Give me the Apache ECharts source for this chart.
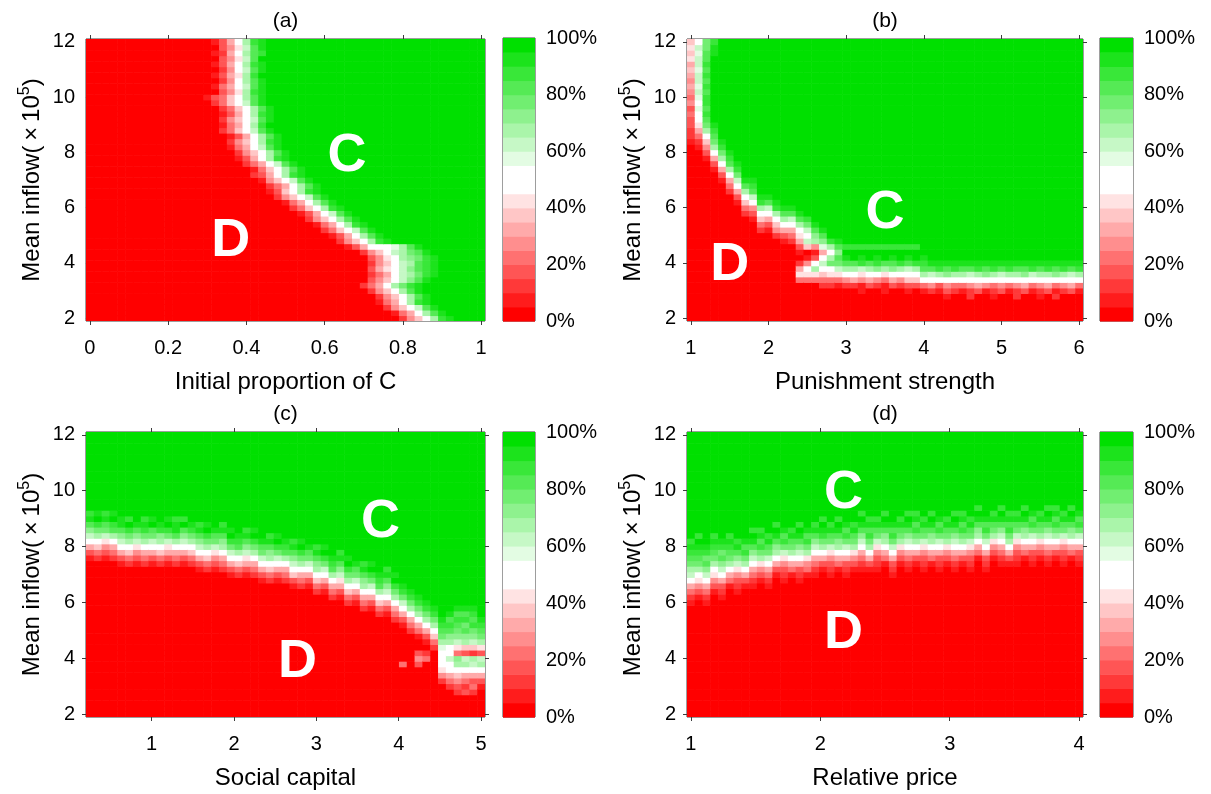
<!DOCTYPE html>
<html>
<head>
<meta charset="utf-8">
<script src="https://cdn.jsdelivr.net/npm/echarts@6/dist/echarts.min.js"></script>
<style>
html,body{margin:0;padding:0;background:#fff;}
#chart{width:1211px;height:794px;}
</style>
</head>
<body>
<div id="chart"></div>
<script>
// ---------------- DATA ----------------
// Share of cooperators, stored per cell as a colour-band key (band k = k*5 .. k*5+5 %)
const levelKey = '0123456789abcdefghij';

// Mean inflow (x10^5) of each grid row, bottom -> top
const yCells = [2,2.2,2.4,2.6,2.8,3,3.2,3.4,3.6,3.8,4,4.2,4.4,4.6,4.8,5,5.2,5.4,5.6,5.8,6,6.2,6.4,6.6,6.8,7,7.2,7.4,7.6,7.8,8,8.2,8.4,8.6,8.8,9,9.2,9.4,9.6,9.8,10,10.2,10.4,10.6,10.8,11,11.2,11.4,11.6,11.8,12];

// x of each grid column
const xCellsA = [0,0.02,0.04,0.06,0.08,0.1,0.12,0.14,0.16,0.18,0.2,0.22,0.24,0.26,0.28,0.3,0.32,0.34,0.36,0.38,0.4,0.42,0.44,0.46,0.48,0.5,0.52,0.54,0.56,0.58,0.6,0.62,0.64,0.66,0.68,0.7,0.72,0.74,0.76,0.78,0.8,0.82,0.84,0.86,0.88,0.9,0.92,0.94,0.96,0.98,1];
const xCellsB = [1,1.1,1.2,1.3,1.4,1.5,1.6,1.7,1.8,1.9,2,2.1,2.2,2.3,2.4,2.5,2.6,2.7,2.8,2.9,3,3.1,3.2,3.3,3.4,3.5,3.6,3.7,3.8,3.9,4,4.1,4.2,4.3,4.4,4.5,4.6,4.7,4.8,4.9,5,5.1,5.2,5.3,5.4,5.5,5.6,5.7,5.8,5.9,6];
const xCellsC = [0.25,0.345,0.44,0.535,0.63,0.725,0.82,0.915,1.01,1.105,1.2,1.295,1.39,1.485,1.58,1.675,1.77,1.865,1.96,2.055,2.15,2.245,2.34,2.435,2.53,2.625,2.72,2.815,2.91,3.005,3.1,3.195,3.29,3.385,3.48,3.575,3.67,3.765,3.86,3.955,4.05,4.145,4.24,4.335,4.43,4.525,4.62,4.715,4.81,4.905,5];
const xCellsD = [1,1.06,1.12,1.18,1.24,1.3,1.36,1.42,1.48,1.54,1.6,1.66,1.72,1.78,1.84,1.9,1.96,2.02,2.08,2.14,2.2,2.26,2.32,2.38,2.44,2.5,2.56,2.62,2.68,2.74,2.8,2.86,2.92,2.98,3.04,3.1,3.16,3.22,3.28,3.34,3.4,3.46,3.52,3.58,3.64,3.7,3.76,3.82,3.88,3.94,4];

// (a) one entry per row (bottom -> top): [first column of the D->C transition, bands across it]
// cells left of it are all-D (0%), cells right of it all-C (100%)
const rowsA = [
 [40,"2579dhi"],[39,"1469dgi"],[38,"2579cgi"],[37,"1469dhi"],[37,"2579dgi"],
 [36,"2579dgi"],[35,"2469dfhi"],[36,"3579cegi"],[36,"2469cdfhi"],[36,"3689ceghi"],
 [36,"2579cdghi"],[36,"358adefhi"],[35,"2579cdfgi"],[33,"13699abdgi"],[32,"2579dhi"],
 [31,"1369dgi"],[30,"2479cgi"],[29,"1469dhi"],[28,"2579dgi"],[27,"1369cgi"],
 [26,"2479dhi"],[25,"1469dgi"],[24,"2579cgi"],[23,"1379dhi"],[23,"2469dgi"],
 [22,"1579cgi"],[21,"2369dhi"],[21,"1479dgi"],[20,"2469cgi"],[19,"1369dhi"],
 [19,"2579dgi"],[18,"1469cgi"],[18,"2579dhi"],[18,"1369dgi"],[17,"2479cgi"],
 [17,"1469dhj"],[17,"2579cgi"],[17,"1369dhi"],[17,"2479dgi"],[16,"2479cgi"],
 [15,"13479dgi"],[16,"0358dhi"],[16,"1469cgi"],[16,"0259dgi"],[16,"1368dhj"],
 [16,"0259cgi"],[16,"1369dhi"],[16,"0358cgj"],[16,"1269dgh"],[16,"0358cgi"],
 [16,"1369dhi"]
];

// (b),(c),(d) one entry per column (left -> right): [first row of the transition, bands upward]
// cells below it are all-D (0%), cells above it all-C (100%)
const colsB = [
 [32,"1223343545656768787"],[31,"124689ababcbccbccbca"],[29,"1357adfghghhghghghggff"],[27,"136adfghijjjjjjjjjjjjiih"],[25,"1369dfhi"],
 [23,"2469dghi"],[21,"1369cfhi"],[19,"2479dgi"],[18,"1359cghi"],[16,"2479dhi"],
 [16,"1369cgi"],[15,"2579dhi"],[14,"1369dgi"],[14,"2469cgi"],[7,"486201368adgi"],
 [7,"4895107cacfh"],[7,"48d9315degi"],[6,"2479ca6begi"],[6,"248afd9dh"],[6,"148cfgegi"],
 [6,"259dgijh"],[5,"0269dgjjh"],[5,"1158chijh"],[5,"036adgjjh"],[5,"0259ehijh"],
 [5,"1148dgjjh"],[5,"036aegijh"],[5,"0259dhjjh"],[5,"1379cgijh"],[5,"037adhjjh"],
 [5,"149dghij"],[5,"25acgij"],[5,"139dhij"],[4,"135aegij"],[5,"249dhij"],
 [5,"14adgij"],[4,"2259cgij"],[5,"369dhij"],[5,"15aegij"],[4,"1249dhij"],
 [5,"359cgij"],[5,"14adhij"],[4,"2259dgij"],[5,"36aegij"],[5,"149chij"],
 [4,"125adgij"],[5,"369dhij"],[4,"2149egij"],[5,"25adhij"],[5,"369cgij"],
 [5,"149dhij"]
];
const colsC = [
 [28,"1369cegih"],[28,"2479dfhji"],[28,"1358cfgih"],[28,"2469dghji"],[27,"1369cegii"],
 [27,"2479dfhjh"],[27,"1358cegij"],[27,"2469dfhih"],[27,"1369cfgji"],[27,"2479dehij"],
 [27,"1368cfhji"],[27,"2469dgiih"],[27,"1369cegjh"],[27,"2479dfhij"],[26,"1369cegih"],
 [26,"2479dfhji"],[26,"1358cfgij"],[26,"2469degih"],[25,"1369cfhji"],[25,"2479dghij"],
 [25,"1368cegih"],[25,"2469dfhji"],[24,"1369cfgij"],[24,"2479degih"],[24,"1369cfhji"],
 [24,"2469dghij"],[23,"1379cegih"],[23,"2469dfhji"],[23,"1369cfgij"],[22,"2479degih"],
 [22,"1369cfhji"],[21,"2469dghij"],[21,"1368cegih"],[20,"2479dfhji"],[20,"1369cfgij"],
 [19,"2469degih"],[19,"1369cfhji"],[18,"2479dghij"],[18,"1369cegih"],[17,"2469dfhji"],
 [9,"40000001369cfhi"],[15,"2469dfhij"],[9,"353001469dfhi"],[10,"4201369dfhi"],[12,"2479dfhij"],
 [6,"2589a9bdfghi"],[5,"2469ac9adeghgi"],[4,"23579de48cefghgi"],[4,"32469dc37degfhgi"],[4,"2436acd27cefhghi"],
 [5,"1369dc38dfghi"]
];
const colsD = [
 [20,"12469cdfghihj"],[21,"1358adfghijh"],[20,"12469cegfhij"],[22,"1358adfghihj"],[21,"12369cegfhij"],
 [23,"1469dfghihj"],[22,"12358cegihj"],[23,"1369dfhgij"],[23,"12469cegijh"],[24,"1358dfhgihj"],
 [23,"12469cfgihj"],[25,"1369degijh"],[24,"12358cfhgij"],[25,"1469dfgihj"],[24,"12369cegijh"],
 [25,"1458dfhgij"],[25,"12469cegihj"],[26,"1369dfhijh"],[25,"12358cfgihj"],[26,"1469degijh"],
 [25,"12369cfhgij"],[26,"1358dfgihj"],[26,"12469cegijh"],[26,"1369dfhgihj"],[26,"12358cfgihj"],
 [27,"1469degijh"],[25,"12369cfhgij"],[27,"1358dfgihj"],[26,"12469cegijh"],[27,"1369dfhgihj"],
 [26,"12358cfgihj"],[27,"1469degijh"],[26,"12369cfhgij"],[27,"1358dfgihj"],[26,"12469cegijh"],
 [27,"1369dfhgihj"],[26,"12358cfgihj"],[28,"1469degijh"],[26,"12369cfhgij"],[28,"1358dfgihj"],
 [27,"12469cegijh"],[27,"1369dfhgihj"],[27,"12358cfgihj"],[28,"1469degijh"],[27,"12369cfhgij"],
 [28,"1358dfgihj"],[27,"12469cegijh"],[28,"1369dfhgihj"],[27,"12358cfgihj"],[28,"1469degijh"],
 [27,"12369cfhgij"]
];

// Tick labels
const xTicksA = [0,0.2,0.4,0.6,0.8,1];
const xTicksB = [1,2,3,4,5,6];
const xTicksC = [1,2,3,4,5];
const xTicksD = [1,2,3,4];
const yTicks = [2,4,6,8,10,12];
const cbBands = [0,5,10,15,20,25,30,35,40,45,50,55,60,65,70,75,80,85,90,95];

const panelTitles = ['(a)','(b)','(c)','(d)'];
const xNames = ['Initial proportion of C','Punishment strength','Social capital','Relative price'];
const regionLabelsA = [['C',0.657,7.85],['D',0.36,4.8]];
const regionLabelsB = [['C',3.5,5.8],['D',1.5,3.92]];
const regionLabelsC = [['C',3.78,8.88],['D',2.77,3.86]];
const regionLabelsD = [['C',2.18,9.92],['D',2.18,4.9]];

// ---------------- BUILD ----------------
function levelOf(ch){ return levelKey.indexOf(ch) * 5 + 2.5; }
function bandColor(b){
  if (b <= 8){ const t = b / 9; const c = Math.round(255 * t); return 'rgb(255,' + c + ',' + c + ')'; }
  if (b <= 10) return 'rgb(255,255,255)';
  const t = (19 - b) / 9;
  return 'rgb(' + Math.round(255 * t) + ',' + Math.round(224 + 31 * t) + ',' + Math.round(255 * t) + ')';
}
function cellChar(start, s, k){ const d = k - start; return d < 0 ? '0' : (d < s.length ? s[d] : 'j'); }
function buildByRows(rows, xs, ys){
  if (rows.length !== ys.length) throw new Error('row count');
  const out = [];
  rows.forEach(function(r, j){ xs.forEach(function(x, i){ out.push([x, ys[j], levelOf(cellChar(r[0], r[1], i))]); }); });
  return out;
}
function buildByCols(cols, xs, ys){
  if (cols.length !== xs.length) throw new Error('col count');
  const out = [];
  cols.forEach(function(c, i){ ys.forEach(function(y, j){ out.push([xs[i], y, levelOf(cellChar(c[0], c[1], j))]); }); });
  return out;
}

const FONT = '"Liberation Sans", Arial, Helvetica, sans-serif';
const AX = '#3c3c3c';

const panels = [
  {data: buildByRows(rowsA, xCellsA, yCells), dx: 0.02, xMin: -0.01, xMax: 1.01, xTicks: xTicksA, labels: regionLabelsA,
   grid: {left: 86, top: 39, width: 399, height: 282}, cb: {left: 503, top: 38, width: 32, height: 283}},
  {data: buildByCols(colsB, xCellsB, yCells), dx: 0.1, xMin: 0.95, xMax: 6.05, xTicks: xTicksB, labels: regionLabelsB,
   grid: {left: 687, top: 39, width: 396, height: 282}, cb: {left: 1100, top: 38, width: 33, height: 283}},
  {data: buildByCols(colsC, xCellsC, yCells), dx: 0.095, xMin: 0.2025, xMax: 5.0475, xTicks: xTicksC, labels: regionLabelsC,
   grid: {left: 86, top: 432, width: 399, height: 285}, cb: {left: 503, top: 432, width: 32, height: 285}},
  {data: buildByCols(colsD, xCellsD, yCells), dx: 0.06, xMin: 0.97, xMax: 4.03, xTicks: xTicksD, labels: regionLabelsD,
   grid: {left: 687, top: 432, width: 396, height: 285}, cb: {left: 1100, top: 432, width: 33, height: 285}}
];
const dy = 0.2, yMin = 1.9, yMax = 12.1;

const grids = [], xAxes = [], yAxes = [], series = [];
panels.forEach(function(p, k){
  grids.push(Object.assign({show: true, borderColor: AX, borderWidth: 1, backgroundColor: 'transparent', containLabel: false}, p.grid));
  grids.push(Object.assign({show: true, borderColor: AX, borderWidth: 1, backgroundColor: 'transparent', containLabel: false}, p.cb));
  const gMain = 2 * k, gCb = 2 * k + 1;
  const tick = {show: true, inside: false, length: 4, lineStyle: {color: AX, width: 1}};
  xAxes.push({gridIndex: gMain, type: 'value', position: 'bottom', min: p.xMin, max: p.xMax,
    axisLine: {show: false}, splitLine: {show: false},
    axisTick: Object.assign({customValues: p.xTicks}, tick),
    axisLabel: {customValues: p.xTicks, fontSize: 20, color: '#000', fontFamily: FONT, margin: 17},
    name: xNames[k], nameLocation: 'middle', nameGap: 49,
    nameTextStyle: {fontSize: 24, color: '#000', fontFamily: FONT}});
  xAxes.push({gridIndex: gMain, type: 'value', position: 'top', min: p.xMin, max: p.xMax,
    axisLine: {show: false}, splitLine: {show: false},
    axisTick: Object.assign({customValues: p.xTicks}, tick),
    axisLabel: {show: false},
    name: panelTitles[k], nameLocation: 'middle', nameGap: 7,
    nameTextStyle: {fontSize: 21, color: '#000', fontFamily: FONT}});
  xAxes.push({gridIndex: gCb, type: 'value', min: 0, max: 1, show: false});
  yAxes.push({gridIndex: gMain, type: 'value', position: 'left', min: yMin, max: yMax,
    axisLine: {show: false}, splitLine: {show: false},
    axisTick: Object.assign({customValues: yTicks}, tick),
    axisLabel: {customValues: yTicks, fontSize: 20, color: '#000', fontFamily: FONT, margin: 11},
    name: '{n|Mean inflow(\u2009×\u200910}{s|5}{n|)}', nameLocation: 'middle', nameGap: 39,
    nameTextStyle: {color: '#000', fontFamily: FONT, fontSize: 24,
      rich: {n: {fontSize: 24, lineHeight: 30, color: '#000', fontFamily: FONT},
             s: {fontSize: 16, verticalAlign: 'top', color: '#000', fontFamily: FONT}}}});
  yAxes.push({gridIndex: gMain, type: 'value', position: 'right', min: yMin, max: yMax,
    axisLine: {show: false}, splitLine: {show: false},
    axisTick: Object.assign({customValues: yTicks}, tick),
    axisLabel: {show: false}});
  yAxes.push({gridIndex: gCb, type: 'value', position: 'right', min: 0, max: 100, interval: 20,
    axisLine: {show: false}, splitLine: {show: false}, axisTick: {show: false},
    axisLabel: {formatter: '{value}%', fontSize: 20, color: '#000', fontFamily: FONT, margin: 11}});

  const dx = p.dx;
  series.push({type: 'custom', xAxisIndex: 3 * k, yAxisIndex: 3 * k, clip: true, silent: true,
    data: p.data, z: 2,
    renderItem: function(params, api){
      const x = api.value(0), y = api.value(1), v = api.value(2);
      const p0 = api.coord([x - dx / 2, y + dy / 2]);
      const p1 = api.coord([x + dx / 2, y - dy / 2]);
      return {type: 'rect', shape: {x: p0[0], y: p0[1], width: p1[0] - p0[0] + 0.6, height: p1[1] - p0[1] + 0.6},
        style: {fill: bandColor(Math.floor(v / 5))}};
    }});
  series.push({type: 'scatter', xAxisIndex: 3 * k, yAxisIndex: 3 * k, z: 5, silent: true,
    symbolSize: 2, itemStyle: {color: 'rgba(0,0,0,0)', opacity: 1},
    data: p.labels.map(function(l){ return {name: l[0], value: [l[1], l[2]]}; }),
    label: {show: true, position: 'inside', formatter: function(q){ return q.name; },
      color: '#ffffff', opacity: 1, fontSize: 54, fontWeight: 'bold', fontFamily: FONT}});
  series.push({type: 'custom', xAxisIndex: 3 * k + 2, yAxisIndex: 3 * k + 2, silent: true, z: 2,
    data: cbBands.map(function(b){ return [0.5, b + 2.5]; }),
    renderItem: function(params, api){
      const v = api.value(1);
      const p0 = api.coord([0, v + 2.5]);
      const p1 = api.coord([1, v - 2.5]);
      return {type: 'rect', shape: {x: p0[0], y: p0[1], width: p1[0] - p0[0], height: p1[1] - p0[1] + 0.6},
        style: {fill: bandColor(Math.floor(v / 5))}};
    }});
});

const chart = echarts.init(document.getElementById('chart'), null, {renderer: 'canvas'});
chart.setOption({
  animation: false,
  backgroundColor: '#fff',
  textStyle: {fontFamily: FONT},
  grid: grids, xAxis: xAxes, yAxis: yAxes, series: series
});
</script>
</body>
</html>
